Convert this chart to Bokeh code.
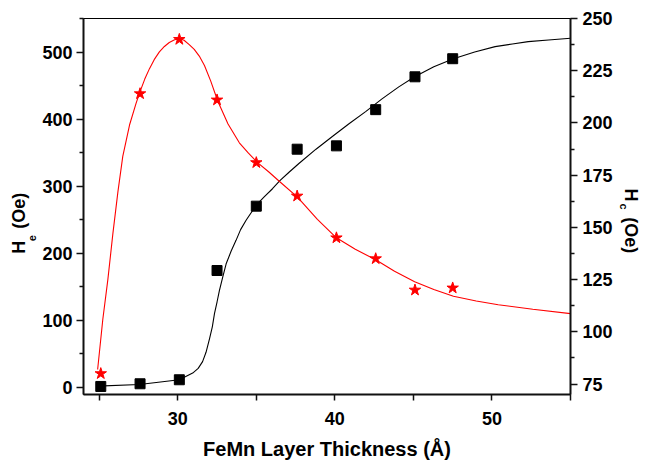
import math
from bokeh.plotting import figure
from bokeh.models import Range1d, LinearAxis, FixedTicker
from bokeh.layouts import row
from bokeh.core.properties import value
from bokeh.embed import file_html
from bokeh.resources import INLINE

# ---- data ----
thickness = [25.1, 27.6, 30.1, 32.5, 35.0, 37.6, 40.1, 42.6, 45.1, 47.5]
he_values = [1, 5, 11, 174, 270, 355, 360, 414, 463, 490]
hc_values = [80, 214, 240, 211, 181, 165, 145, 135, 120, 121]

# fitted curves
he_fit_x = [24.9, 27.56, 30.1, 30.95, 31.3, 31.58, 31.8, 32.02, 32.2, 32.34, 32.5, 32.65,
            32.85, 33.08, 33.4, 33.71, 34.0, 34.35, 34.98, 35.5, 36.03, 36.5, 37.1, 37.73,
            38.8, 39.84, 40.9, 41.96, 43.0, 44.07, 45.08, 46.3, 47.55, 48.9, 50.2, 51.3,
            52.31, 53.6, 55.0]
he_fit_y = [1.5, 4, 11, 21, 28, 38, 52, 72, 90, 110, 127, 144,
            163, 184, 203, 219, 235, 249, 271, 284, 296, 308, 321, 334,
            355, 374, 393, 411, 430, 448, 463, 478, 490, 500, 508, 512,
            515.5, 518, 520.5]

hc_fit_x = [24.9, 25.23, 25.55, 25.87, 26.19, 26.5, 26.93, 27.35, 27.6, 27.9, 28.2, 28.5,
            28.83, 29.15, 29.46, 29.8, 30.1, 30.4, 30.73, 31.05, 31.37, 31.7, 32.1, 32.55,
            33.2, 33.92, 34.5, 35.08, 35.8, 36.46, 37.62, 38.89, 40.1, 41.3, 42.6, 43.8,
            45.08, 46.3, 47.55, 49.0, 50.4, 52.6, 55.0]
hc_fit_y = [82, 106, 125, 147, 167, 184, 199, 209.5, 215, 221, 226, 230.3,
            234, 236.6, 238.5, 239.8, 240.3, 239.6, 237.5, 235.2, 232, 227.5, 220, 210.4,
            199.5, 190.5, 185.5, 181, 176.5, 172.1, 164.5, 153.8, 145, 139.5, 134.5, 129,
            124, 120.3, 117, 114.8, 113, 110.8, 108.7]

x_ticks = [30, 40, 50]
x_minor = [25, 35, 45, 55]
he_ticks = [0, 100, 200, 300, 400, 500]
he_minor = [50, 150, 250, 350, 450, 550]
hc_ticks = [75, 100, 125, 150, 175, 200, 225, 250]
hc_minor = [87.5, 112.5, 137.5, 162.5, 187.5, 212.5, 237.5]

x_title = "FeMn Layer Thickness (Å)"
left_title = ["H", "e", "(Oe)"]
right_title = ["H", "c", "(Oe)"]

FONT = "Liberation Sans"
RED = "#ff0000"
H = 463
TOP, BOTTOM = 18, 394          # frame edges in page pixels
LW, PW, RW = 38, 580, 28

p = figure(width=PW, height=H, output_backend="svg", toolbar_location=None,
           x_range=Range1d(24, 55), y_range=Range1d(-11, 550),
           min_border_left=45, min_border_right=48, min_border_top=TOP,
           min_border_bottom=H - BOTTOM)
p.title.visible = False
p.extra_y_ranges = {"hc": Range1d(70, 250)}
p.xgrid.visible = False
p.ygrid.visible = False
p.outline_line_color = "black"
p.outline_line_width = 1

right = LinearAxis(y_range_name="hc")
p.add_layout(right, "right")

def style_axis(ax, major_out, minor_out, standoff):
    ax.axis_line_color = "#111111"
    ax.axis_line_width = 2
    ax.major_tick_line_color = "#111111"
    ax.minor_tick_line_color = "#111111"
    ax.major_tick_line_width = 1.5
    ax.minor_tick_line_width = 1.5
    ax.major_tick_in = 0
    ax.minor_tick_in = 0
    ax.major_tick_out = major_out
    ax.minor_tick_out = minor_out
    ax.major_label_text_font = FONT
    ax.major_label_text_font_style = "bold"
    ax.major_label_text_font_size = "18px"
    ax.major_label_text_color = "black"
    ax.major_label_standoff = standoff

xa = p.xaxis[0]
xa.ticker = FixedTicker(ticks=x_ticks, minor_ticks=x_minor)
style_axis(xa, 6, 6, 11)
xa.axis_label = x_title
xa.axis_label_text_font = FONT
xa.axis_label_text_font_style = "bold"
xa.axis_label_text_font_size = "20px"
xa.axis_label_text_color = "black"
xa.axis_label_standoff = 10

ya = p.yaxis[0]
ya.ticker = FixedTicker(ticks=he_ticks, minor_ticks=he_minor)
style_axis(ya, 7, 4, 4)
right.ticker = FixedTicker(ticks=hc_ticks, minor_ticks=hc_minor)
style_axis(right, 7, 4, 5)

# curves
p.line(he_fit_x, he_fit_y, line_color="black", line_width=1.1)
p.line(hc_fit_x, hc_fit_y, line_color=RED, line_width=1.1, y_range_name="hc")
# markers
p.scatter(thickness, he_values, marker="square", size=10, fill_color="black", line_color="black")
p.scatter(thickness, hc_values, marker="star", size=12, fill_color=RED, line_color=RED,
          y_range_name="hc")


def strip(width):
    # the row aligns this frame with the main frame (page rows TOP..BOTTOM),
    # so the y range is chosen to make y = page height - page row
    f = figure(width=width, height=H, output_backend="svg", toolbar_location=None,
               x_range=Range1d(0, width), y_range=Range1d(H - BOTTOM, H - TOP),
               x_axis_location=None, y_axis_location=None,
               min_border_left=0, min_border_right=0,
               min_border_top=TOP, min_border_bottom=H - BOTTOM)
    f.title.visible = False
    f.outline_line_color = None
    f.xgrid.visible = False
    f.ygrid.visible = False
    return f

def put(f, txt, x, y, size, angle):
    f.text(x=[x], y=[y], text=[txt], angle=angle,
           text_font=value(FONT), text_font_style=value("bold"),
           text_font_size=value(size), text_color="black",
           text_align="left", text_baseline="alphabetic")

# left title  H_e (Oe), reading bottom to top
L = strip(LW)
put(L, left_title[0], 18.3, H - 253.3, "18px", math.pi / 2)
put(L, left_title[1], 31.5, H - 240.7, "11px", math.pi / 2)
put(L, left_title[2], 18.3, H - 228.3, "18px", math.pi / 2)

# right title  H_c (Oe), reading top to bottom
R = strip(RW)
put(R, right_title[0], 12, H - 188, "18px", -math.pi / 2)
put(R, right_title[1], 5, H - 203, "11px", -math.pi / 2)
put(R, right_title[2], 12, H - 216.7, "18px", -math.pi / 2)

layout = row(L, p, R, spacing=0)
open("out.html", "w").write(file_html(layout, INLINE))
